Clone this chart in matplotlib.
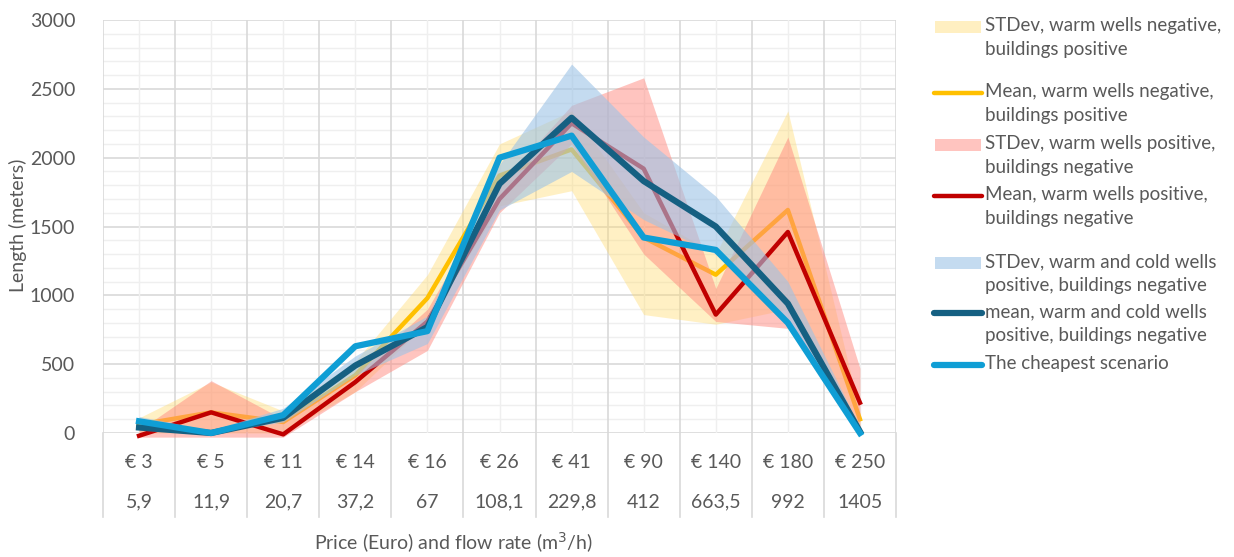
import matplotlib
matplotlib.use('Agg')
import matplotlib.pyplot as plt
import matplotlib.transforms as mtransforms
from matplotlib.patches import Rectangle
from matplotlib.lines import Line2D

# categories: price and flow rate per scenario
prices = ['€ 3', '€ 5', '€ 11', '€ 14', '€ 16', '€ 26', '€ 41', '€ 90', '€ 140', '€ 180', '€ 250']
flows = ['5,9', '11,9', '20,7', '37,2', '67', '108,1', '229,8', '412', '663,5', '992', '1405']

# warm wells negative, buildings positive
wn_mean = [60, 150, 80, 420, 980, 1870, 2060, 1420, 1150, 1620, 100]
wn_low = [0, 0, 0, 300, 800, 1650, 1760, 860, 790, 900, 0]
wn_high = [110, 370, 160, 520, 1150, 2100, 2340, 1600, 1300, 2340, 150]

# warm wells positive, buildings negative
wp_mean = [-20, 150, -10, 370, 810, 1700, 2250, 1920, 860, 1460, 220]
wp_low = [-30, -30, -30, 300, 600, 1600, 2100, 1300, 810, 760, 0]
wp_high = [20, 380, 100, 420, 900, 1800, 2380, 2580, 1050, 2150, 470]

# warm and cold wells positive, buildings negative
wc_mean = [40, 0, 110, 490, 770, 1810, 2290, 1830, 1500, 940, 10]
wc_low = [20, 0, 80, 420, 650, 1620, 1900, 1550, 1300, 780, 0]
wc_high = [120, 20, 180, 560, 850, 1950, 2680, 2150, 1720, 1100, 40]

cheapest = [85, 0, 130, 630, 740, 2000, 2160, 1420, 1330, 800, 0]

legend_labels = [
    'STDev, warm wells negative,\nbuildings positive',
    'Mean, warm wells negative,\nbuildings positive',
    'STDev, warm wells positive,\nbuildings negative',
    'Mean, warm wells positive,\nbuildings negative',
    'STDev, warm and cold wells\npositive, buildings negative',
    'mean, warm and cold wells\npositive, buildings negative',
    'The cheapest scenario',
]

GREY = '#595959'
W, H = 1234, 557
plt.rcParams['font.family'] = ['Lato', 'DejaVu Sans']

fig = plt.figure(figsize=(W / 100, H / 100), dpi=100)
ax = fig.add_axes([103 / W, (H - 433) / H, 793 / W, 413 / H])

x = list(range(len(prices)))

# grid
for v in range(0, 3001, 100):
    major = v % 500 == 0
    ax.axhline(v, color='#d9d9d9' if major else '#efefef', lw=1.2 if major else 1.0, zorder=0)
for i in range(len(prices) + 1):
    ax.axvline(i - 0.5, color='#d9d9d9', lw=1.2, zorder=0)
for i in x:
    ax.axvline(i, color='#efefef', lw=1.0, zorder=0)

# bands and means, drawn in series order
ax.fill_between(x, wn_low, wn_high, color='#ffd966', alpha=0.38, lw=0, zorder=2, clip_on=False)
ax.plot(x, wn_mean, color='#ffc000', lw=3.2, zorder=3, clip_on=False)
ax.fill_between(x, wp_low, wp_high, color='#ff8a80', alpha=0.5, lw=0, zorder=4, clip_on=False)
ax.plot(x, wp_mean, color='#c00000', lw=3.2, zorder=5, clip_on=False)
ax.fill_between(x, wc_low, wc_high, color='#9dc3e6', alpha=0.6, lw=0, zorder=6, clip_on=False)
ax.plot(x, wc_mean, color='#156082', lw=4.5, zorder=7, clip_on=False)
ax.plot(x, cheapest, color='#0f9ed5', lw=4.5, zorder=8, clip_on=False)

ax.set_xlim(-0.5, len(prices) - 0.5)
ax.set_ylim(0, 3000)
ax.set_yticks(range(0, 3001, 500))
ax.set_yticklabels([str(v) for v in range(0, 3001, 500)], fontsize=14, color=GREY)
ax.tick_params(axis='y', length=0, pad=20)
ax.set_xticks([])
for s in ax.spines.values():
    s.set_visible(False)

# two-row category axis with separators
trans = mtransforms.blended_transform_factory(ax.transData, fig.transFigure)
for i in range(len(prices) + 1):
    ax.plot([i - 0.5, i - 0.5], [(H - 433) / H, (H - 517) / H], color='#d9d9d9',
            lw=1.2, transform=trans, clip_on=False)
for i in x:
    ax.text(i, (H - 462) / H, prices[i], transform=trans, ha='center', va='center',
            fontsize=14, color=GREY)
    ax.text(i, (H - 502) / H, flows[i], transform=trans, ha='center', va='center',
            fontsize=14, color=GREY)

fig.text(453 / W, (H - 543) / H, 'Price (Euro) and flow rate (m$^3$/h)', ha='center',
         va='center', fontsize=14, color=GREY)
fig.text(18 / W, (H - 225) / H, 'Length (meters)', rotation=90, ha='center', va='center',
         fontsize=14, color=GREY)

# legend, swatch aligned with the first text line
entries = [
    ('patch', '#ffd966', 0.4, 27),
    ('line', '#ffc000', 3.2, 93),
    ('patch', '#ff8a80', 0.5, 145),
    ('line', '#c00000', 3.2, 196),
    ('patch', '#9dc3e6', 0.6, 263),
    ('line', '#156082', 4.5, 313),
    ('line', '#0f9ed5', 4.5, 365),
]
for (kind, color, arg, y), label in zip(entries, legend_labels):
    yf = (H - y) / H
    if kind == 'patch':
        fig.patches.append(Rectangle((935 / W, yf - 6 / H), 46 / W, 12 / H, color=color,
                                     alpha=arg, lw=0, transform=fig.transFigure))
    else:
        fig.lines.append(Line2D([934 / W, 982 / W], [yf, yf], color=color, lw=arg,
                                solid_capstyle='round', transform=fig.transFigure))
    fig.text(985 / W, yf + 10 / H, label, ha='left', va='top', fontsize=13.5, color=GREY,
             linespacing=1.5)

fig.savefig('out.png', dpi=100)
